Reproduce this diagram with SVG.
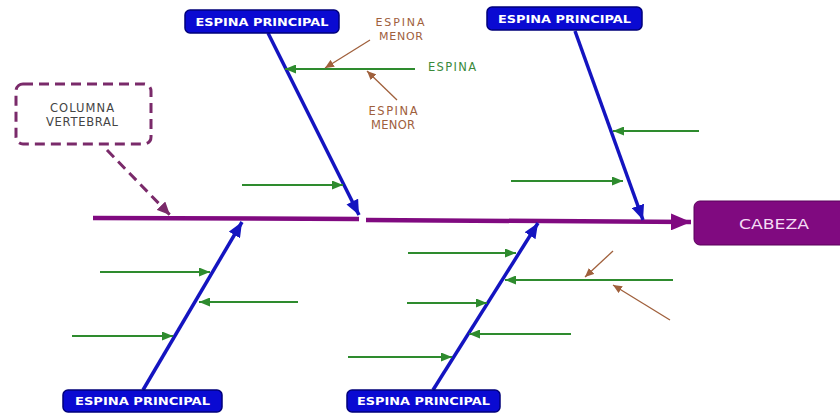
<svg xmlns="http://www.w3.org/2000/svg" width="840" height="414" viewBox="0 0 840 414">
<defs>
<style>
.box{fill:#0a0ad2;stroke:#00007a;stroke-width:1.5}
.boxt{fill:#ffffff;font-family:"DejaVu Sans",Verdana,sans-serif;font-weight:bold;font-size:11px}
.spine{stroke:#1414c0;stroke-width:3.5;fill:none}
.green{stroke:#2e8b2e;stroke-width:2;fill:none}
.brown{stroke:#a0603c;stroke-width:1.3;fill:none}
.main{stroke:#800a80;stroke-width:4.5;fill:none}
.lbl{font-family:"DejaVu Sans",Verdana,sans-serif;font-size:11.5px}
.sm{font-size:11px}
</style>
<marker id="mb" markerUnits="userSpaceOnUse" viewBox="0 0 15 13" refX="15" refY="6.5" markerWidth="15" markerHeight="13" orient="auto"><path d="M0,0L15,6.5L0,13z" fill="#1414c0"/></marker>
<marker id="mg" markerUnits="userSpaceOnUse" viewBox="0 0 11 9" refX="11" refY="4.5" markerWidth="11" markerHeight="9" orient="auto"><path d="M0,0L11,4.5L0,9z" fill="#2e8b2e"/></marker>
<marker id="mr" markerUnits="userSpaceOnUse" viewBox="0 0 9 8" refX="9" refY="4" markerWidth="9" markerHeight="8" orient="auto"><path d="M0,0L9,4L0,8z" fill="#a0603c"/></marker>
<marker id="mp" markerUnits="userSpaceOnUse" viewBox="0 0 20 17" refX="20" refY="8.5" markerWidth="20" markerHeight="17" orient="auto"><path d="M0,0L20,8.5L0,17z" fill="#800a80"/></marker>
<marker id="md" markerUnits="userSpaceOnUse" viewBox="0 0 13 12" refX="13" refY="6" markerWidth="13" markerHeight="12" orient="auto"><path d="M0,0L13,6L0,12z" fill="#7a2a6a"/></marker>
</defs>
<rect width="840" height="414" fill="#ffffff"/>
<g id="connectors">
<line class="main" x1="93" y1="218" x2="359" y2="219"/>
<line class="main" x1="366" y1="220" x2="691" y2="222" marker-end="url(#mp)"/>
<line x1="107" y1="150" x2="170" y2="215" stroke="#7a2a6a" stroke-width="3" stroke-dasharray="10,6" marker-end="url(#md)"/>
<line class="spine" x1="268" y1="33" x2="359" y2="215" marker-end="url(#mb)"/>
<line class="spine" x1="575" y1="31" x2="643" y2="220" marker-end="url(#mb)"/>
<line class="spine" x1="143" y1="390" x2="242" y2="222" marker-end="url(#mb)"/>
<line class="spine" x1="433" y1="390" x2="538" y2="223" marker-end="url(#mb)"/>
<line class="green" x1="415" y1="69" x2="285" y2="69" marker-end="url(#mg)"/>
<line class="green" x1="242" y1="185" x2="343" y2="185" marker-end="url(#mg)"/>
<line class="green" x1="699" y1="131" x2="613" y2="131" marker-end="url(#mg)"/>
<line class="green" x1="511" y1="181" x2="623" y2="181" marker-end="url(#mg)"/>
<line class="green" x1="100" y1="272" x2="210" y2="272" marker-end="url(#mg)"/>
<line class="green" x1="298" y1="302" x2="199" y2="302" marker-end="url(#mg)"/>
<line class="green" x1="72" y1="336" x2="173" y2="336" marker-end="url(#mg)"/>
<line class="green" x1="408" y1="253" x2="516" y2="253" marker-end="url(#mg)"/>
<line class="green" x1="673" y1="280" x2="505" y2="280" marker-end="url(#mg)"/>
<line class="green" x1="407" y1="303" x2="487" y2="303" marker-end="url(#mg)"/>
<line class="green" x1="571" y1="334" x2="469" y2="334" marker-end="url(#mg)"/>
<line class="green" x1="348" y1="357" x2="452" y2="357" marker-end="url(#mg)"/>
<line class="brown" x1="370" y1="40" x2="325" y2="68" marker-end="url(#mr)"/>
<line class="brown" x1="397" y1="100" x2="367" y2="71" marker-end="url(#mr)"/>
<line class="brown" x1="613" y1="251" x2="585" y2="277" marker-end="url(#mr)"/>
<line class="brown" x1="670" y1="320" x2="613" y2="285" marker-end="url(#mr)"/>
</g>
<g id="espina-principal-1"><rect class="box" x="185" y="10" width="154" height="23" rx="5"/><text class="boxt" x="262" y="25.5" text-anchor="middle" textLength="133" lengthAdjust="spacingAndGlyphs">ESPINA PRINCIPAL</text></g>
<g id="espina-principal-2"><rect class="box" x="487" y="7" width="155" height="23" rx="5"/><text class="boxt" x="564.5" y="22.5" text-anchor="middle" textLength="133" lengthAdjust="spacingAndGlyphs">ESPINA PRINCIPAL</text></g>
<g id="espina-principal-3"><rect class="box" x="63" y="390" width="159" height="22" rx="5"/><text class="boxt" x="142.5" y="405" text-anchor="middle" textLength="135" lengthAdjust="spacingAndGlyphs">ESPINA PRINCIPAL</text></g>
<g id="espina-principal-4"><rect class="box" x="347" y="390" width="153" height="22" rx="5"/><text class="boxt" x="423.5" y="405" text-anchor="middle" textLength="133" lengthAdjust="spacingAndGlyphs">ESPINA PRINCIPAL</text></g>
<g id="cabeza"><rect x="694" y="201" width="156" height="44" rx="6" fill="#800a80" stroke="#5a005a" stroke-width="1"/><text x="774" y="229" text-anchor="middle" fill="#f4dcf4" font-family="DejaVu Sans,Verdana,sans-serif" font-size="14" textLength="70" lengthAdjust="spacingAndGlyphs">CABEZA</text></g>
<g id="columna-vertebral"><rect x="16" y="84" width="135" height="60" rx="7" fill="#ffffff" stroke="#7a2a6a" stroke-width="3" stroke-dasharray="10,6"/><text class="lbl" x="82" y="112" text-anchor="middle" fill="#444444" textLength="64">COLUMNA</text><text class="lbl" x="82" y="125.5" text-anchor="middle" fill="#444444" textLength="72">VERTEBRAL</text></g>
<g id="espina-label"><text class="lbl" x="428" y="71" fill="#3a8a3a" textLength="48">ESPINA</text></g>
<g id="espina-menor-1"><text class="lbl sm" x="400" y="26" text-anchor="middle" fill="#a0603c" textLength="49">ESPINA</text><text class="lbl sm" x="401" y="39.5" text-anchor="middle" fill="#a0603c" textLength="44">MENOR</text></g>
<g id="espina-menor-2"><text class="lbl" x="393" y="115" text-anchor="middle" fill="#a0603c" textLength="49">ESPINA</text><text class="lbl" x="393" y="129" text-anchor="middle" fill="#a0603c" textLength="44">MENOR</text></g>
</svg>
